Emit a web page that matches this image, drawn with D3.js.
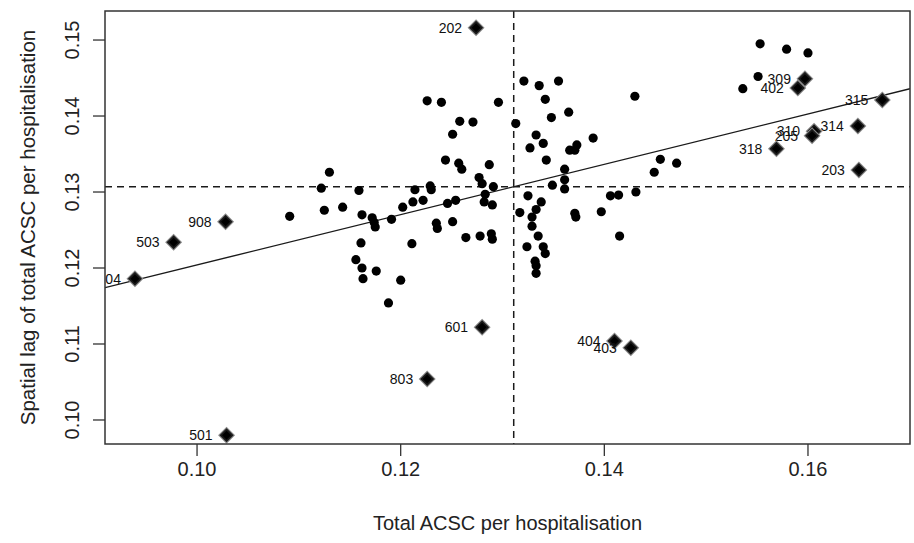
<!DOCTYPE html>
<html><head><meta charset="utf-8">
<script src="https://cdn.jsdelivr.net/npm/d3@7"></script>
<style>body{margin:0;background:#fff;} text{font-family:Arial,"Liberation Sans",sans-serif;}</style>
</head><body>
<svg id="chart" width="914" height="543"></svg>
<script>
// Regular (non-influential) points: [Total ACSC per hospitalisation, spatial lag]
const pointsX = [0.1226,0.1240,0.1296,0.1258,0.1271,0.1251,0.1244,0.1257,0.1260,0.1287,0.1130,0.1277,0.1280,0.1122,0.1159,0.1214,0.1229,0.1230,0.1291,0.1283,0.1125,0.1143,0.1202,0.1212,0.1222,0.1246,0.1254,0.1282,0.1290,0.1162,0.1172,0.1174,0.1175,0.1191,0.1235,0.1236,0.1251,0.1161,0.1211,0.1264,0.1278,0.1289,0.1290,0.1156,0.1162,0.1163,0.1176,0.1200,0.1188,0.1091,
  0.1321,0.1336,0.1355,0.1342,0.1430,0.1365,0.1348,0.1313,0.1333,0.1327,0.1340,0.1389,0.1366,0.1373,0.1371,0.1343,0.1361,0.1361,0.1349,0.1361,0.1449,0.1325,0.1338,0.1406,0.1414,0.1431,0.1317,0.1333,0.1329,0.1329,0.1371,0.1372,0.1397,0.1335,0.1415,0.1324,0.1340,0.1342,0.1332,0.1333,0.1333,
  0.1455,0.1471,0.1553,0.1579,0.1600,0.1551,0.1536];
const pointsY = [0.1420,0.1418,0.1418,0.1393,0.1392,0.1376,0.1342,0.1338,0.1330,0.1336,0.1326,0.1319,0.1311,0.1305,0.1302,0.1303,0.1308,0.1303,0.1307,0.1297,0.1276,0.1280,0.1280,0.1287,0.1289,0.1285,0.1289,0.1287,0.1283,0.1270,0.1266,0.1260,0.1254,0.1264,0.1259,0.1252,0.1261,0.1233,0.1232,0.1240,0.1242,0.1245,0.1238,0.1211,0.1200,0.1186,0.1196,0.1184,0.1154,0.1268,
  0.1446,0.1440,0.1446,0.1422,0.1426,0.1405,0.1398,0.1390,0.1375,0.1358,0.1364,0.1371,0.1355,0.1362,0.1355,0.1342,0.1330,0.1316,0.1309,0.1304,0.1326,0.1295,0.1287,0.1295,0.1296,0.1300,0.1273,0.1277,0.1267,0.1255,0.1272,0.1267,0.1274,0.1242,0.1242,0.1228,0.1228,0.1219,0.1209,0.1203,0.1193,
  0.1343,0.1338,0.1495,0.1488,0.1483,0.1452,0.1436];

// Influential (labelled) points
const inflLabels = ["202","309","402","315","314","310","205","318","203","908","503","104","601","803","404","403","501"];
const inflX = [0.1274,0.1597,0.1590,0.1673,0.1649,0.1606,0.1604,0.1569,0.1650,0.1028,0.0977,0.0939,0.1280,0.1226,0.1410,0.1426,0.1029];
const inflY = [0.1516,0.1449,0.1437,0.1421,0.1387,0.1380,0.1374,0.1357,0.1329,0.1261,0.1234,0.1186,0.1122,0.1054,0.1104,0.1095,0.0980];

// Means and regression (Moran) slope
const meanX = 0.1311;
const meanY = 0.1307;
const slope = 0.331;

const xTicks = [0.10,0.12,0.14,0.16];
const yTicks = [0.10,0.11,0.12,0.13,0.14,0.15];
const xDomain = [0.09096, 0.17002];
const yDomain = [0.09684, 0.15382];
const xTitle = "Total ACSC per hospitalisation";
const yTitle = "Spatial lag of total ACSC per hospitalisation";

const L = 105, R = 910, T = 11, B = 444;
const svg = d3.select("#chart");
const x = d3.scaleLinear().domain(xDomain).range([L, R]);
const y = d3.scaleLinear().domain(yDomain).range([B, T]);

svg.append("defs").append("clipPath").attr("id","clip")
  .append("rect").attr("x",L).attr("y",T).attr("width",R-L).attr("height",B-T);

const plot = svg.append("g").attr("clip-path","url(#clip)");

// dashed mean lines
plot.append("line").attr("x1",x(meanX)).attr("x2",x(meanX)).attr("y1",T).attr("y2",B)
  .attr("stroke","#1a1a1a").attr("stroke-width",1.5).attr("stroke-dasharray","7,5");
plot.append("line").attr("x1",L).attr("x2",R).attr("y1",y(meanY)).attr("y2",y(meanY))
  .attr("stroke","#1a1a1a").attr("stroke-width",1.5).attr("stroke-dasharray","7,5");

// regression line
const lineFn = v => meanY + slope*(v-meanX);
plot.append("line").attr("x1",x(xDomain[0])).attr("y1",y(lineFn(xDomain[0])))
  .attr("x2",x(xDomain[1])).attr("y2",y(lineFn(xDomain[1])))
  .attr("stroke","#1a1a1a").attr("stroke-width",1.4);

// points
plot.selectAll("circle.pt").data(d3.range(pointsX.length)).join("circle")
  .attr("class","pt").attr("cx",i=>x(pointsX[i])).attr("cy",i=>y(pointsY[i])).attr("r",4.6).attr("fill","#000");

// influential diamonds
const dia = s => `M0,${-s}L${s},0L0,${s}L${-s},0Z`;
const ig = plot.selectAll("g.infl").data(d3.range(inflX.length)).join("g")
  .attr("class","infl").attr("transform",i=>`translate(${x(inflX[i])},${y(inflY[i])})`);
ig.append("path").attr("d",dia(8.5)).attr("fill","#8a8a8a");
ig.append("path").attr("d",dia(7)).attr("fill","#1a1a1a");
ig.append("path").attr("d",dia(4.5)).attr("fill","#000");
ig.append("text").attr("x",-14).attr("y",0).attr("dy","0.35em").attr("text-anchor","end")
  .attr("font-size",14).attr("fill","#111").text(i=>inflLabels[i]);

// border
svg.append("rect").attr("x",L).attr("y",T).attr("width",R-L).attr("height",B-T)
  .attr("fill","none").attr("stroke","#333").attr("stroke-width",1.5);

// x axis
const xa = svg.append("g");
xa.selectAll("line").data(xTicks).join("line").attr("x1",d=>x(d)).attr("x2",d=>x(d))
  .attr("y1",B).attr("y2",B+12).attr("stroke","#333").attr("stroke-width",1.3);
xa.selectAll("text").data(xTicks).join("text").attr("x",d=>x(d)).attr("y",476)
  .attr("text-anchor","middle").attr("font-size",20).attr("fill","#222").text(d=>d3.format(".2f")(d));
svg.append("text").attr("x",(L+R)/2).attr("y",530).attr("text-anchor","middle")
  .attr("font-size",20).attr("fill","#222").text(xTitle);

// y axis
const ya = svg.append("g");
ya.selectAll("line").data(yTicks).join("line").attr("x1",L-12).attr("x2",L)
  .attr("y1",d=>y(d)).attr("y2",d=>y(d)).attr("stroke","#333").attr("stroke-width",1.3);
ya.selectAll("text").data(yTicks).join("text")
  .attr("transform",d=>`translate(79,${y(d)}) rotate(-90)`)
  .attr("text-anchor","middle").attr("font-size",20).attr("fill","#222").text(d=>d3.format(".2f")(d));
svg.append("text").attr("transform",`translate(35,${(T+B)/2}) rotate(-90)`)
  .attr("text-anchor","middle").attr("font-size",20.5).attr("fill","#222").text(yTitle);
</script>
</body></html>
